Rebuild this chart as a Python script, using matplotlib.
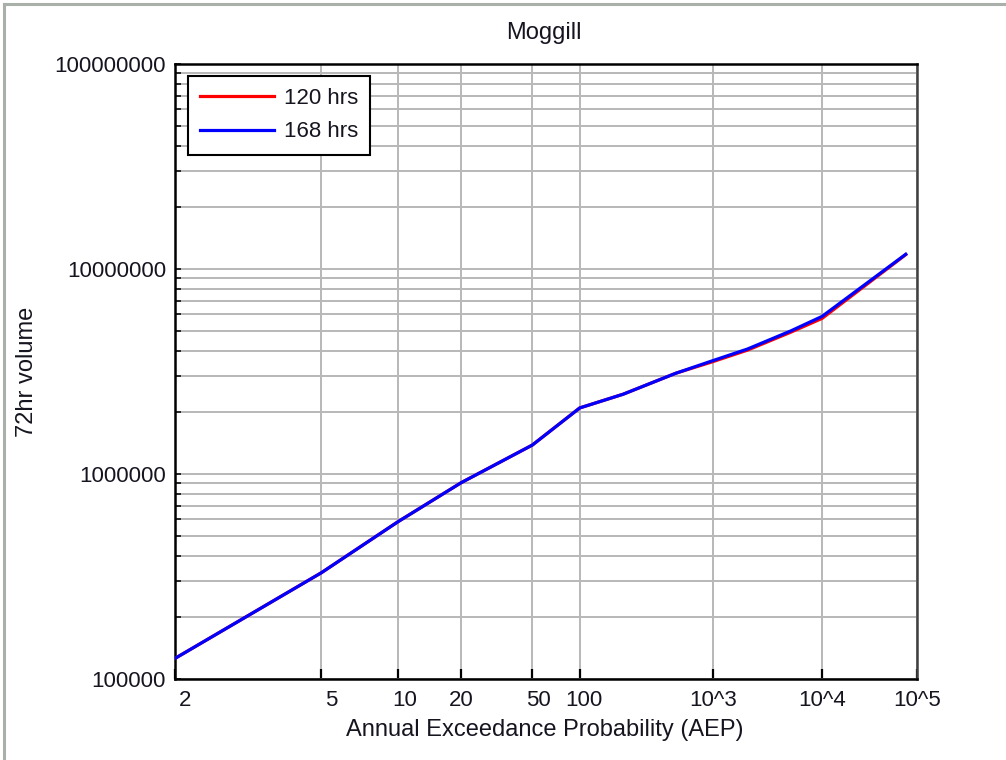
import math
import numpy as np
import matplotlib
matplotlib.use("Agg")
import matplotlib.pyplot as plt
from matplotlib.lines import Line2D
from matplotlib.ticker import FixedLocator, LogLocator, NullFormatter
from matplotlib.transforms import ScaledTranslation

plt.rcParams["font.family"] = ["Liberation Sans", "DejaVu Sans"]

# ---- data -------------------------------------------------------------
title = "Moggill"
x_label = "Annual Exceedance Probability (AEP)"
y_label = "72hr volume"

aep_1in = [2, 5, 10, 20, 50, 100, 200, 500, 1000, 2000, 5000, 10000, 75000]
vol_120 = [1.26e5, 3.30e5, 5.85e5, 9.07e5, 1.384e6, 2.10e6, 2.45e6, 3.10e6,
           3.53e6, 4.02e6, 4.92e6, 5.74e6, 1.175e7]
vol_168 = [1.26e5, 3.30e5, 5.85e5, 9.07e5, 1.384e6, 2.10e6, 2.45e6, 3.10e6,
           3.57e6, 4.07e6, 4.99e6, 5.87e6, 1.18e7]
series_labels = ["120 hrs", "168 hrs"]
series_colors = ["#ff0000", "#0000ff"]

x_ticks = [2, 5, 10, 20, 50, 100, 1000, 10000, 100000]
x_tick_labels = ["2", "5", "10", "20", "50", "100", "10^3", "10^4", "10^5"]
y_ticks = [1e5, 1e6, 1e7, 1e8]
y_tick_labels = ["100000", "1000000", "10000000", "100000000"]


# ---- normal-probability scale for "1 in T" return intervals -----------
_A = [-3.969683028665376e+01, 2.209460984245205e+02, -2.759285104469687e+02,
      1.383577518672690e+02, -3.066479806614716e+01, 2.506628277459239e+00]
_B = [-5.447609879822406e+01, 1.615858368580409e+02, -1.556989798598866e+02,
      6.680131188771972e+01, -1.328068155288572e+01]
_C = [-7.784894002430293e-03, -3.223964580411365e-01, -2.400758277161838e+00,
      -2.549732539343734e+00, 4.374664141464968e+00, 2.938163982698783e+00]
_D = [7.784695709041462e-03, 3.224671290700398e-01, 2.445134137142996e+00,
      3.754408661907416e+00]


def _norm_ppf(p):
    p = np.clip(np.asarray(p, dtype=float), 1e-300, 1 - 1e-16)
    out = np.empty_like(p)
    plow = 0.02425
    lo = p < plow
    hi = p > 1 - plow
    mid = ~(lo | hi)
    if lo.any():
        q = np.sqrt(-2 * np.log(p[lo]))
        out[lo] = (((((_C[0]*q + _C[1])*q + _C[2])*q + _C[3])*q + _C[4])*q + _C[5]) / \
                  ((((_D[0]*q + _D[1])*q + _D[2])*q + _D[3])*q + 1)
    if mid.any():
        q = p[mid] - 0.5
        r = q * q
        out[mid] = (((((_A[0]*r + _A[1])*r + _A[2])*r + _A[3])*r + _A[4])*r + _A[5]) * q / \
                   (((((_B[0]*r + _B[1])*r + _B[2])*r + _B[3])*r + _B[4])*r + 1)
    if hi.any():
        q = np.sqrt(-2 * np.log(1 - p[hi]))
        out[hi] = -(((((_C[0]*q + _C[1])*q + _C[2])*q + _C[3])*q + _C[4])*q + _C[5]) / \
                   ((((_D[0]*q + _D[1])*q + _D[2])*q + _D[3])*q + 1)
    return out


_erfc = np.vectorize(math.erfc)


def t_to_z(t):
    t = np.clip(np.asarray(t, dtype=float), 1.0 + 1e-9, None)
    return -_norm_ppf(1.0 / t)


def z_to_t(z):
    z = np.asarray(z, dtype=float)
    q = 0.5 * _erfc(z / math.sqrt(2.0))
    q = np.clip(q, 1e-300, 1.0)
    return 1.0 / q


# ---- figure -----------------------------------------------------------
W, H = 1006, 760
fig = plt.figure(figsize=(W / 100, H / 100), dpi=100, facecolor="white")
ax = fig.add_axes([175 / W, 1 - 679 / H, (917 - 175) / W, (679 - 64) / H])

ax.set_xscale("function", functions=(t_to_z, z_to_t))
ax.set_yscale("log")
ax.set_xlim(2, 100000)
ax.set_ylim(1e5, 1e8)

for vals, lab, col in zip([vol_120, vol_168], series_labels, series_colors):
    ax.plot(aep_1in, vals, color=col, lw=2.3, label=lab, solid_joinstyle="round",
            zorder=3)

text_color = "#151520"
fs = 16
fs_lab = 17

ax.xaxis.set_major_locator(FixedLocator(x_ticks))
ax.set_xticklabels(x_tick_labels)
ax.xaxis.set_minor_locator(FixedLocator([]))
ax.yaxis.set_major_locator(FixedLocator(y_ticks))
ax.set_yticklabels(y_tick_labels)
ax.yaxis.set_minor_locator(LogLocator(base=10, subs=np.arange(2, 10)))
ax.yaxis.set_minor_formatter(NullFormatter())

ax.grid(True, which="major", axis="x", color="#b8b8b8", lw=1.4, zorder=1)
ax.grid(True, which="both", axis="y", color="#b8b8b8", lw=1.4, zorder=1)

ax.tick_params(axis="x", which="major", direction="in", length=7, width=1.6,
               color="black", pad=8, labelsize=fs, labelcolor=text_color)
ax.tick_params(axis="y", which="both", direction="in", length=4.5, width=1.1,
               color="black", pad=6.5, labelsize=fs, labelcolor=text_color)

# nudge the crowded low-end labels to the right of their ticks
offsets_px = {"2": 10, "5": 10, "10": 7, "50": 6, "100": 4}
for lbl in ax.get_xticklabels():
    dx = offsets_px.get(lbl.get_text(), 0)
    if dx:
        lbl.set_transform(lbl.get_transform() + ScaledTranslation(dx / 100, 0, fig.dpi_scale_trans))

for side in ["left", "bottom", "top"]:
    ax.spines[side].set_color("black")
    ax.spines[side].set_linewidth(1.8)
ax.spines["right"].set_color("#404040")
ax.spines["right"].set_linewidth(1.8)

fig.text(544 / W, 1 - 39 / H, title, ha="center", va="baseline",
         fontsize=fs_lab, color=text_color)
fig.text(545 / W, 1 - 730 / H, x_label, ha="center", va="center",
         fontsize=fs_lab, color=text_color)
fig.text(27 / W, 1 - 372 / H, y_label, ha="center", va="center",
         rotation=90, fontsize=fs_lab, color=text_color)

leg = ax.legend(loc="upper left", bbox_to_anchor=((188 - 175) / 742, (679 - 76) / 615),
                borderaxespad=0, fontsize=fs, handlelength=3.3, handletextpad=0.45,
                labelspacing=0.55, borderpad=0.55, fancybox=False, framealpha=1,
                edgecolor="black")
leg.get_frame().set_linewidth(1.5)
for t in leg.get_texts():
    t.set_color(text_color)

# panel border on the top and left edges
fig.add_artist(Line2D([4 / W, 4 / W], [0, 1 - 4 / H], color="#a9b0a9", lw=2.2,
                      transform=fig.transFigure))
fig.add_artist(Line2D([4 / W, 1], [1 - 4 / H, 1 - 4 / H], color="#a9b0a9", lw=2.2,
                      transform=fig.transFigure))

fig.savefig("out.png", dpi=100, facecolor="white")
